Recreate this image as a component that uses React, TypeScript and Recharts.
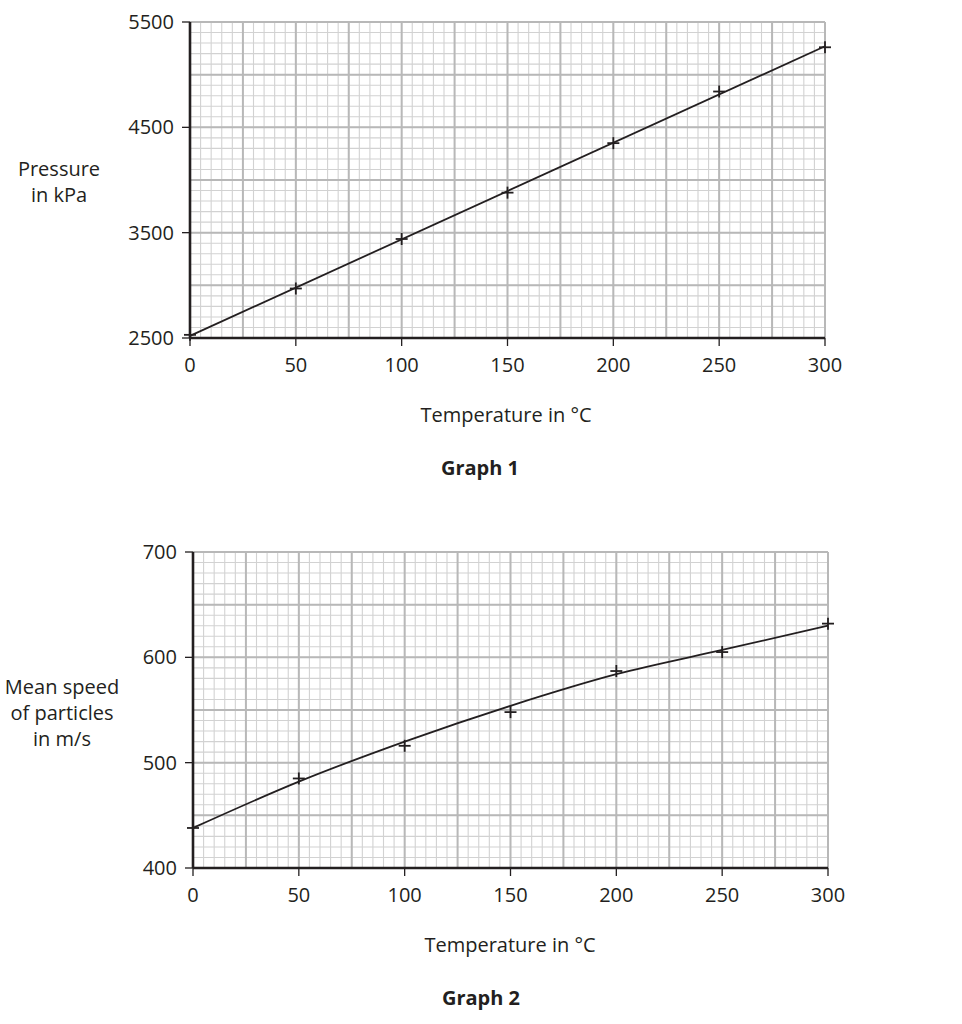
import React from "react";
import {
  ComposedChart,
  Line,
  XAxis,
  YAxis,
  CartesianGrid,
} from "recharts";

// temperature readings (°C)
const temps = [0, 50, 100, 150, 200, 250, 300];

// Graph 1: pressure in kPa (plotted crosses) and the straight best-fit line
const pressure = [2530, 2970, 3440, 3880, 4350, 4840, 5260];
const pressureFit = [
  { t: 0, v: 2520 },
  { t: 300, v: 5270 },
];

// Graph 2: mean speed in m/s (plotted crosses) and the curve through them
const speed = [438, 485, 516, 548, 587, 605, 632];
const speedCurve = [438, 482, 520, 554, 584, 607, 630];

const xTicks = [0, 50, 100, 150, 200, 250, 300];
const yTicks1 = [2500, 3500, 4500, 5500];
const yTicks2 = [400, 500, 600, 700];

const xMajor = [0, 25, 50, 75, 100, 125, 150, 175, 200, 225, 250, 275, 300];
const xMinor = Array.from({ length: 61 }, (_, i) => i * 5);
const yMajor1 = [2500, 3000, 3500, 4000, 4500, 5000, 5500];
const yMinor1 = Array.from({ length: 31 }, (_, i) => 2500 + i * 100);
const yMajor2 = [400, 450, 500, 550, 600, 650, 700];
const yMinor2 = Array.from({ length: 31 }, (_, i) => 400 + i * 10);

const points1 = temps.map((t, i) => ({ t, v: pressure[i] }));
const points2 = temps.map((t, i) => ({ t, v: speed[i] }));
const curve2 = temps.map((t, i) => ({ t, v: speedCurve[i] }));

const INK = "#231f20";
const FONT = "'Open Sans', 'Noto Sans', sans-serif";

const Cross = (props: any) => {
  const { cx, cy } = props;
  if (cx == null || cy == null) return null;
  return (
    <g>
      <line x1={cx - 6} y1={cy} x2={cx + 6} y2={cy} stroke={INK} strokeWidth={1.8} />
      <line x1={cx} y1={cy - 6} x2={cx} y2={cy + 6} stroke={INK} strokeWidth={1.8} />
    </g>
  );
};

const tickStyle = { fill: INK, fontSize: 20, fontFamily: FONT };

function Graph({ points, fit, yDomain, yTicks, yMajor, yMinor, margin, type }: any) {
  return (
    <ComposedChart width={962} height={420} margin={margin}>
      <CartesianGrid
        horizontalValues={yMinor}
        verticalValues={xMinor}
        stroke="#d2d2d2"
        strokeWidth={1.1}
      />
      <CartesianGrid
        horizontalValues={yMajor}
        verticalValues={xMajor}
        stroke="#b8b8b8"
        strokeWidth={2}
      />
      <XAxis
        dataKey="t"
        type="number"
        domain={[0, 300]}
        ticks={xTicks}
        interval={0}
        height={40}
        tickSize={8}
        tickMargin={12}
        axisLine={{ stroke: INK, strokeWidth: 2.6 }}
        tickLine={{ stroke: INK, strokeWidth: 1.3 }}
        tick={tickStyle}
      />
      <YAxis
        type="number"
        domain={yDomain}
        ticks={yTicks}
        interval={0}
        width={80}
        tickSize={8}
        tickMargin={8}
        axisLine={{ stroke: INK, strokeWidth: 2.6 }}
        tickLine={{ stroke: INK, strokeWidth: 1.3 }}
        tick={tickStyle}
      />
      <Line
        data={fit}
        dataKey="v"
        type={type}
        stroke={INK}
        strokeWidth={1.8}
        dot={false}
        activeDot={false}
        isAnimationActive={false}
      />
      <Line
        data={points}
        dataKey="v"
        stroke="none"
        dot={<Cross />}
        activeDot={false}
        isAnimationActive={false}
      />
    </ComposedChart>
  );
}

const textBase: React.CSSProperties = {
  position: "absolute",
  fontFamily: FONT,
  fontSize: 20,
  color: INK,
  textAlign: "center",
  lineHeight: "26px",
  whiteSpace: "nowrap",
  transform: "translate(-50%, -50%)",
};

export default function App() {
  return (
    <div
      style={{
        position: "absolute",
        top: 0,
        left: 0,
        width: 962,
        height: 1024,
        background: "#fff",
      }}
    >
      <div style={{ position: "absolute", top: 0, left: 0 }}>
        <Graph
          points={points1}
          fit={pressureFit}
          yDomain={[2500, 5500]}
          yTicks={yTicks1}
          yMajor={yMajor1}
          yMinor={yMinor1}
          margin={{ top: 22, right: 137, bottom: 42, left: 110 }}
          type="linear"
        />
      </div>
      <div style={{ ...textBase, left: 59, top: 182 }}>
        Pressure
        <br />
        in kPa
      </div>
      <div style={{ ...textBase, left: 506, top: 415 }}>Temperature in °C</div>
      <div style={{ ...textBase, left: 480, top: 468, fontWeight: 700 }}>Graph 1</div>

      <div style={{ position: "absolute", top: 530, left: 0 }}>
        <Graph
          points={points2}
          fit={curve2}
          yDomain={[400, 700]}
          yTicks={yTicks2}
          yMajor={yMajor2}
          yMinor={yMinor2}
          margin={{ top: 22, right: 134, bottom: 42, left: 113 }}
          type="monotone"
        />
      </div>
      <div style={{ ...textBase, left: 62, top: 713 }}>
        Mean speed
        <br />
        of particles
        <br />
        in m/s
      </div>
      <div style={{ ...textBase, left: 510, top: 945 }}>Temperature in °C</div>
      <div style={{ ...textBase, left: 481, top: 998, fontWeight: 700 }}>Graph 2</div>
    </div>
  );
}
